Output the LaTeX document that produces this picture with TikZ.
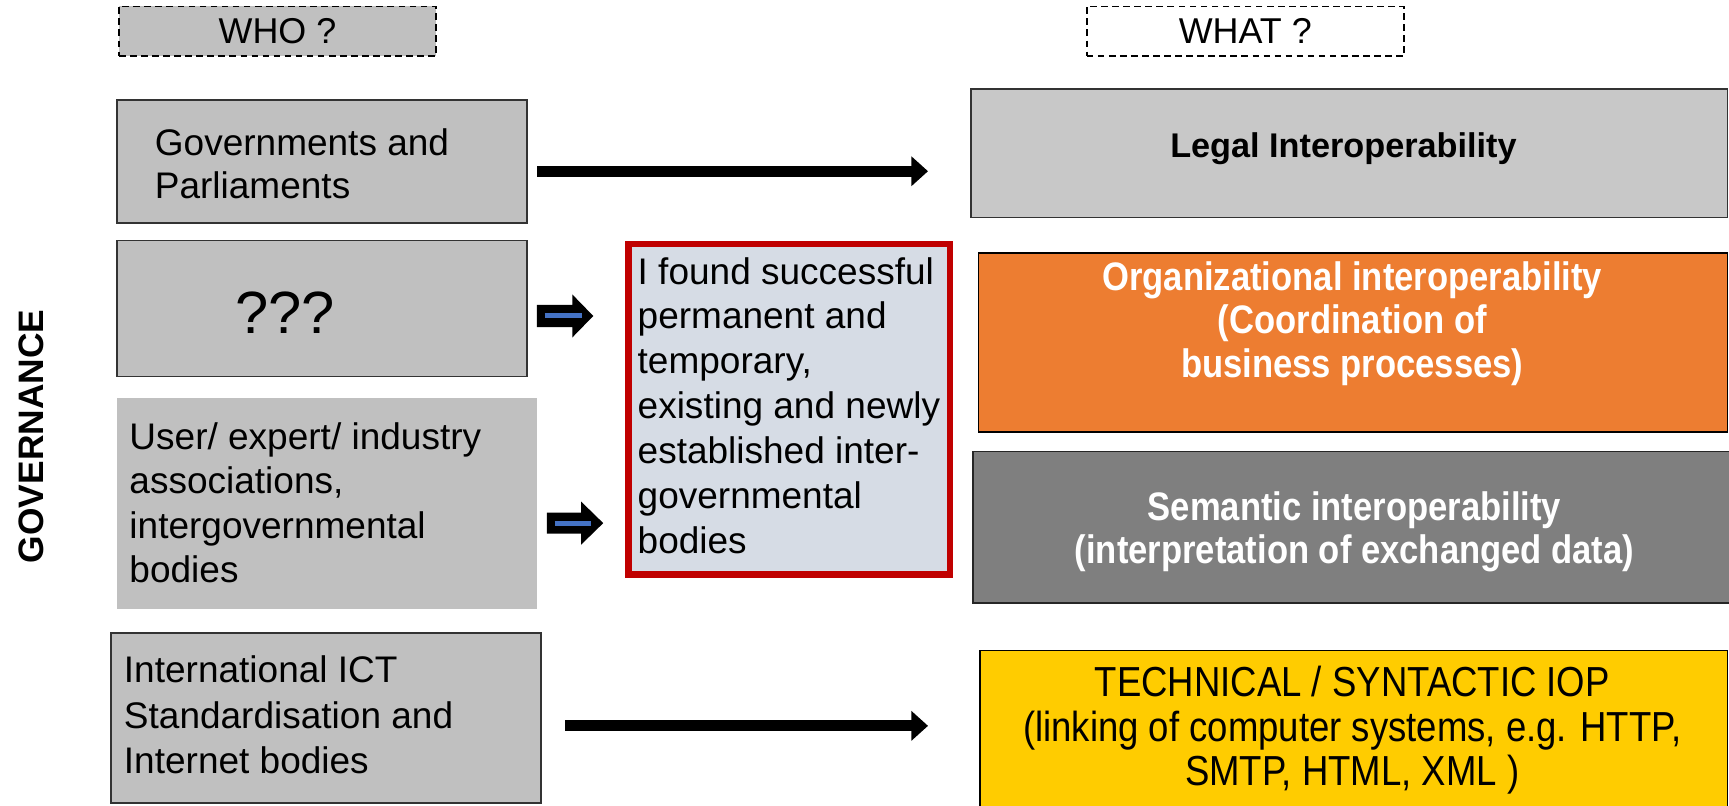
\documentclass[tikz,border=0pt]{standalone}
\usepackage{fontspec}
\setmainfont{Liberation Sans}
\newfontfamily\narrowfont[FakeStretch=0.87]{Liberation Sans}
\usetikzlibrary{arrows.meta,calc}
\definecolor{boxgray}{HTML}{C0C0C0}
\definecolor{legalgray}{HTML}{C8C8C8}
\definecolor{redfill}{HTML}{D6DCE5}
\definecolor{redline}{HTML}{C00000}
\definecolor{orangefill}{HTML}{ED7D31}
\definecolor{semgray}{HTML}{7F7F7F}
\definecolor{yellowfill}{HTML}{FFCC00}
\definecolor{bluebar}{HTML}{4472C4}
\begin{document}
\begin{tikzpicture}[x=1pt,y=-1pt,
  box/.style={draw=black!80, line width=1.5pt, fill=boxgray, rectangle, inner sep=0pt, anchor=north west},
  plainbox/.style={rectangle, inner sep=0pt, anchor=north west},
  dashbox/.style={draw=black, line width=1.4pt, dash pattern=on 6pt off 4pt, rectangle, inner sep=0pt, anchor=north west, font=\fontsize{32.5}{36}\selectfont},
  lefttext/.style={anchor=west, align=left, inner sep=0pt, font=\fontsize{33.5}{40}\selectfont},
  righttext/.style={anchor=center, align=center, inner sep=0pt},
  bigarrow/.style={line width=10pt, -{Triangle[length=15pt,width=26pt]}},
  bluebarline/.style={draw=bluebar, line width=4.5pt}
]
\useasboundingbox (0,0) rectangle (1565,729.5);

% headers
\node[dashbox, fill=boxgray, minimum width=287pt, minimum height=45pt] (who) at (107,5) {WHO ?};
\node[dashbox, fill=white, minimum width=287pt, minimum height=45pt] (what) at (983,5) {WHAT ?};

% governance label
\node[rotate=90, inner sep=0pt, font=\bfseries\fontsize{32}{38}\selectfont] (govlabel) at (28,395) {GOVERNANCE};

% left boxes
\node[box, minimum width=371pt, minimum height=111pt] (gov) at (105,90) {};
\node[lefttext, font=\fontsize{33.5}{39}\selectfont] (govtxt) at (140,148) {Governments and\\Parliaments};

\node[box, minimum width=371pt, minimum height=123pt] (qqq) at (105,217) {};
\node[lefttext, font=\fontsize{54}{60}\selectfont] (qqqtxt) at (213,283) {???};

\node[plainbox, fill=boxgray, minimum width=380pt, minimum height=191pt] (user) at (106,360) {};
\node[lefttext] (usertxt) at (117,455) {User/ expert/ industry\\associations,\\intergovernmental\\bodies};

\node[box, minimum width=389pt, minimum height=154pt] (ict) at (100,572) {};
\node[lefttext, font=\fontsize{33.5}{41}\selectfont] (icttxt) at (112,647) {International ICT\\Standardisation and\\Internet bodies};

% red box
\node[plainbox, draw=redline, line width=6pt, fill=redfill, minimum width=291pt, minimum height=299pt] (found) at (566,218) {};
\node[lefttext, font=\fontsize{33.5}{40.6}\selectfont] (foundtxt) at (577,367) {I found successful\\permanent and\\temporary,\\existing and newly\\established inter-\\governmental\\bodies};

% right boxes
\node[box, fill=legalgray, minimum width=685pt, minimum height=116pt] (legal) at (878,80) {};
\node[righttext, font=\bfseries\fontsize{31}{36}\selectfont] (legaltxt) at (1216,135) {Legal Interoperability};

\node[box, draw=black, fill=orangefill, minimum width=678pt, minimum height=162pt] (org) at (885,228) {};
\node[righttext, text=white, font=\narrowfont\bfseries\fontsize{36}{39}\selectfont] (orgtxt) at (1224,293) {Organizational interoperability\\(Coordination of\\business processes)};

\node[box, draw=black!85, fill=semgray, minimum width=685pt, minimum height=137pt] (sem) at (880,408) {};
\node[righttext, text=white, font=\narrowfont\bfseries\fontsize{36}{39}\selectfont] (semtxt) at (1226,481) {Semantic interoperability\\(interpretation of exchanged data)};

\node[box, draw=black, fill=yellowfill, minimum width=677pt, minimum height=170pt] (tech) at (886,588) {};
\node[righttext, font=\narrowfont\fontsize{38}{40}\selectfont] (techtxt) at (1224,661) {TECHNICAL / SYNTACTIC IOP\\(linking of computer systems, e.g. HTTP,\\SMTP, HTML, XML )};

% big arrows
\coordinate (ya) at (0,155);
\coordinate (yb) at (0,657);
\draw[bigarrow] ($(gov.east |- ya)+(9,0)$) -- ($(legal.west |- ya)+(-38,0)$);
\draw[bigarrow] ($(ict.east |- yb)+(21,0)$) -- ($(tech.west |- yb)+(-46,0)$);

% small block arrows
\fill[black] (486,276) -- (518,276) -- (518,266.5) -- (537,286) -- (518,305.5) -- (518,296) -- (486,296) -- cycle;
\draw[bluebarline] (493,286) -- (527,286);
\fill[black] (495,464) -- (526,464) -- (526,454) -- (546,473.5) -- (526,493) -- (526,483) -- (495,483) -- cycle;
\draw[bluebarline] (502,473.5) -- (535,473.5);
\end{tikzpicture}
\end{document}
